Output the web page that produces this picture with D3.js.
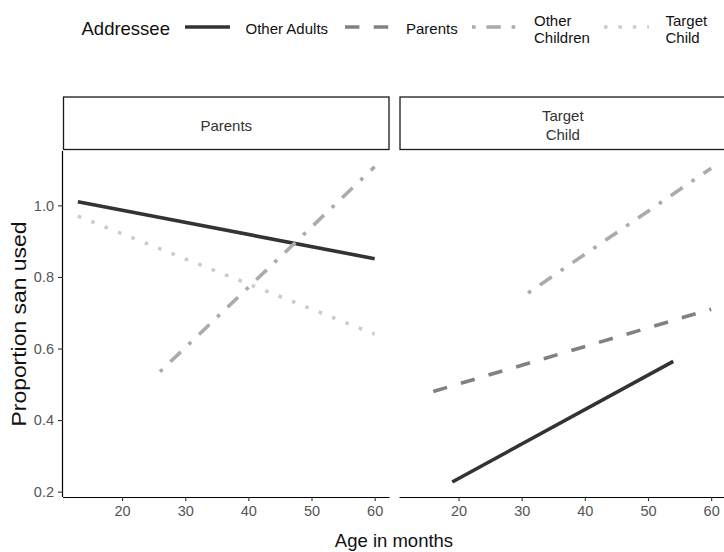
<!DOCTYPE html>
<html>
<head>
<meta charset="utf-8">
<script src="https://cdn.jsdelivr.net/npm/d3@7"></script>
<style>
  html, body { margin: 0; padding: 0; background: #fff; }
  svg { display: block; font-family: "Liberation Sans", Arial, Helvetica, sans-serif; }
</style>
</head>
<body>
<svg id="chart" width="724" height="552"></svg>
<script>
// ---------------- data ----------------
const facets = ["Parents", "Target Child"];
const addressees = ["Other Adults", "Parents", "Other Children", "Target Child"];
const legendTitle = "Addressee";
const xTicks = [20, 30, 40, 50, 60];
const yTicks = [0.2, 0.4, 0.6, 0.8, 1.0];
const xLabel = "Age in months";
const yLabel = "Proportion san used";

// fitted lines: [age, proportion] endpoints, per facet and addressee
const parentsOtherAdults   = [[13, 1.010], [60, 0.851]];
const parentsOtherChildren = [[26, 0.535], [60, 1.108]];
const parentsTargetChild   = [[13, 0.970], [60, 0.640]];
const childOtherAdults     = [[19, 0.227], [54, 0.564]];
const childParents         = [[16, 0.480], [60, 0.710]];
const childOtherChildren   = [[31, 0.755], [60, 1.104]];

const facetSeries = [
  [ {who: "Other Adults", pts: parentsOtherAdults},
    {who: "Other Children", pts: parentsOtherChildren},
    {who: "Target Child", pts: parentsTargetChild} ],
  [ {who: "Other Adults", pts: childOtherAdults},
    {who: "Parents", pts: childParents},
    {who: "Other Children", pts: childOtherChildren} ]
];

// ---------------- styles ----------------
const LW = 3.6;
const colour = d3.scaleOrdinal().domain(addressees)
  .range(["#333333", "#818181", "#ababab", "#cccccc"]);
const dash = d3.scaleOrdinal().domain(addressees)
  .range(["none",
          `${4*LW},${4*LW}`,
          `${LW},${3*LW},${4*LW},${3*LW}`,
          `${LW},${3*LW}`]);

// ---------------- layout ----------------
const svg = d3.select("#chart");
const panelTop = 151, panelBottom = 497;
const panelW = 326.5;
const panelLefts = [63, 399.5];
const stripTop = 97, stripBottom = 149.5;

const y = d3.scaleLinear().domain([0.185, 1.152]).range([panelBottom, panelTop]);
const xScales = panelLefts.map(l =>
  d3.scaleLinear().domain([10.65, 62.35]).range([l, l + panelW]));

facets.forEach((f, i) => {
  const x = xScales[i];
  const left = panelLefts[i];

  // strip
  svg.append("rect")
    .attr("x", left + 0.5).attr("y", stripTop)
    .attr("width", panelW - 1).attr("height", stripBottom - stripTop)
    .attr("fill", "#fff").attr("stroke", "#1a1a1a").attr("stroke-width", 1.3);
  const words = f.split(" ");
  const st = svg.append("text")
    .attr("x", left + panelW / 2)
    .attr("text-anchor", "middle")
    .attr("font-size", 15).attr("fill", "#333");
  if (words.length === 1) {
    st.append("tspan").attr("x", left + panelW / 2).attr("y", 131).text(f);
  } else {
    st.append("tspan").attr("x", left + panelW / 2).attr("y", 120.5).text(words[0]);
    st.append("tspan").attr("x", left + panelW / 2).attr("y", 140).text(words.slice(1).join(" "));
  }

  // lines
  const line = d3.line().x(d => x(d[0])).y(d => y(d[1]));
  const g = svg.append("g");
  g.selectAll("path").data(facetSeries[i]).join("path")
    .attr("d", d => line(d.pts))
    .attr("fill", "none")
    .attr("stroke", d => colour(d.who))
    .attr("stroke-width", LW)
    .attr("stroke-linecap", "butt")
    .attr("stroke-dasharray", d => dash(d.who));

  // x axis
  const xa = svg.append("g")
    .attr("transform", `translate(0,${panelBottom})`)
    .call(d3.axisBottom(x).tickValues(xTicks).tickSize(4).tickPadding(4).tickFormat(d3.format("d")));
  xa.select(".domain").attr("stroke", "#000").attr("stroke-width", 1.2)
    .attr("d", `M${left},0.5H${left + panelW}`);
  xa.selectAll(".tick line").attr("stroke", "#333").attr("stroke-width", 1.1);
  xa.selectAll(".tick text").attr("font-size", 14.5).attr("fill", "#555")
    .attr("font-family", "Liberation Sans, Arial, sans-serif").attr("dy", "0.75em");

  if (i === 0) {
    const ya = svg.append("g")
      .attr("transform", `translate(${left},0)`)
      .call(d3.axisLeft(y).tickValues(yTicks).tickSize(5).tickPadding(4).tickFormat(d3.format(".1f")));
    ya.select(".domain").attr("stroke", "#000").attr("stroke-width", 1.2)
      .attr("d", `M-0.5,${panelTop}V${panelBottom}`);
    ya.selectAll(".tick line").attr("stroke", "#333").attr("stroke-width", 1.1);
    ya.selectAll(".tick text").attr("font-size", 14.5).attr("fill", "#555")
      .attr("font-family", "Liberation Sans, Arial, sans-serif");
  }
});

// axis titles
svg.append("text")
  .attr("x", 394).attr("y", 546.5)
  .attr("text-anchor", "middle")
  .attr("font-size", 18.5).attr("fill", "#111")
  .text(xLabel);

svg.append("text")
  .attr("transform", `translate(26,${(panelTop + panelBottom) / 2}) rotate(-90)`)
  .attr("text-anchor", "middle")
  .attr("font-size", 19.5).attr("fill", "#111")
  .attr("textLength", 205).attr("lengthAdjust", "spacingAndGlyphs")
  .text(yLabel);

// ---------------- legend ----------------
svg.append("text")
  .attr("x", 81.5).attr("y", 35)
  .attr("font-size", 18.5).attr("fill", "#111")
  .text(legendTitle);

const keyX = [185, 345, 472, 604];
const labelX = [245.5, 406, 534, 665.5];
const keyLen = 45;
const keyY = 27;

addressees.forEach((a, i) => {
  svg.append("path")
    .attr("d", d3.line()([[keyX[i], keyY], [keyX[i] + keyLen, keyY]]))
    .attr("stroke", colour(a))
    .attr("stroke-width", LW)
    .attr("stroke-linecap", "butt")
    .attr("stroke-dasharray", dash(a))
    .attr("fill", "none");
  const words = a.split(" ");
  const t = svg.append("text").attr("font-size", 15).attr("fill", "#111");
  if (a === "Other Adults" || words.length === 1) {
    t.attr("x", labelX[i]).attr("y", 34).text(a);
  } else {
    t.append("tspan").attr("x", labelX[i]).attr("y", 25.5).text(words[0]);
    t.append("tspan").attr("x", labelX[i]).attr("y", 42.5).text(words.slice(1).join(" "));
  }
});
</script>
</body>
</html>
